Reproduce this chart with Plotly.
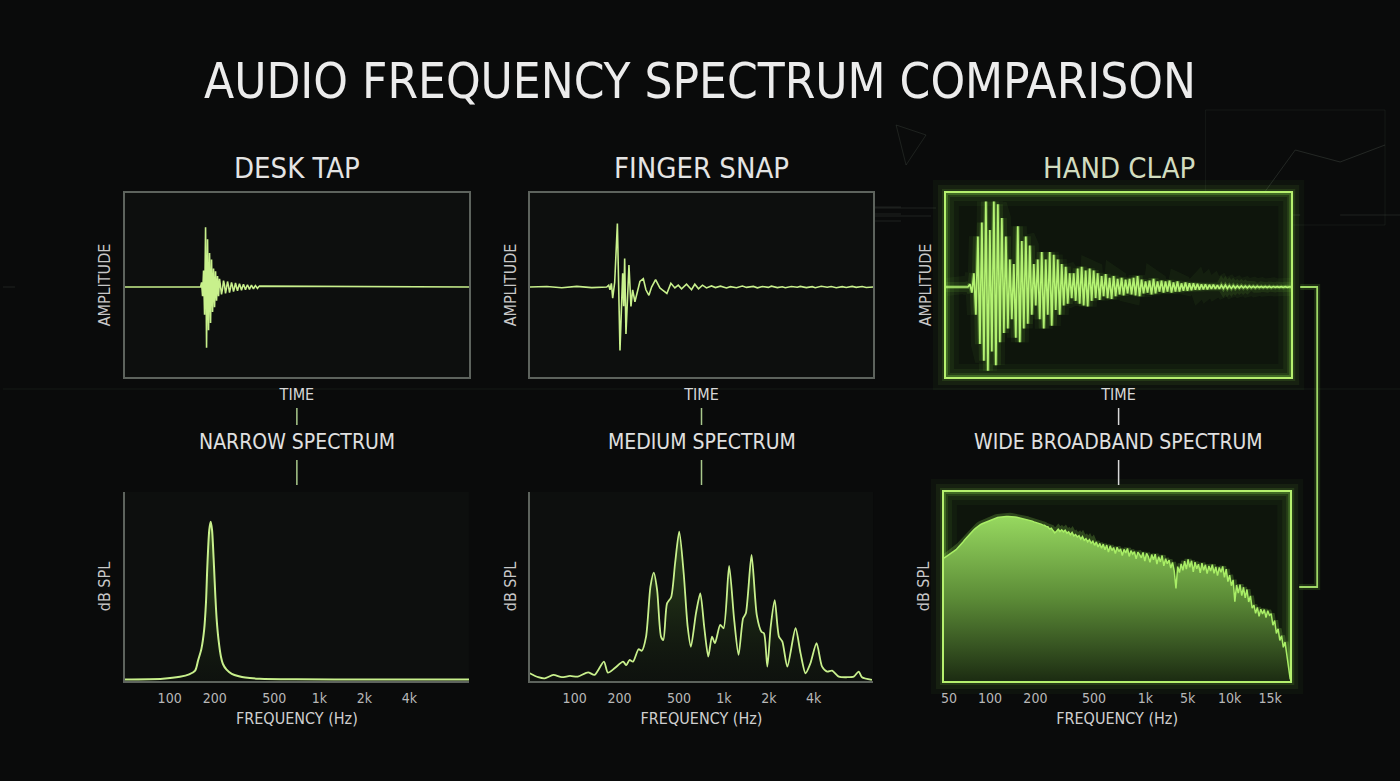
import numpy as np
import plotly.graph_objects as go

# ---------------- DATA ----------------
panel_titles = ["DESK TAP", "FINGER SNAP", "HAND CLAP"]
spectrum_titles = ["NARROW SPECTRUM", "MEDIUM SPECTRUM", "WIDE BROADBAND SPECTRUM"]

# Desk tap waveform: sample index (1 sample per step), burst starts at sample 76
tap_burst_start = 76
tap_burst = [0.0, 0.05, -0.1, 0.18, -0.3, 0.65, -0.66, 0.52, -0.47, 0.37,
             -0.39, 0.3, -0.27, 0.2, -0.22, 0.17, -0.15, 0.12, -0.1, 0.09,
             0.02, -0.08, -0.02, 0.07, 0.02, -0.07, -0.01, 0.06, 0.01, -0.06,
             -0.01, 0.05, 0.01, -0.05, -0.01, 0.045, 0.0, -0.04, 0.0, 0.035,
             0.0, -0.035, 0.0, 0.03, 0.0, -0.03, 0.0, 0.025, 0.0, -0.025,
             0.0, 0.02, 0.0, -0.02, 0.0, 0.015, 0.0, -0.015, 0.0, 0.01]
tap_length = 345

# Finger snap waveform: (sample, amplitude)
snap_t = [0, 17, 32, 47, 62, 77, 79, 80.3, 81.7, 83, 85, 87.7, 90.3, 93, 94, 95, 96.3,
          99.3, 101.3, 103, 105.3, 108, 110.3, 113.7, 116.3, 119.3, 122, 126, 130.3,
          132.7, 137.3, 141.3, 145.3, 148.7, 152, 157, 162, 165.3, 169, 173, 177, 182,
          186, 191, 197, 201, 207, 213, 217, 224, 228, 233, 239, 242, 248, 253, 256,
          262, 268, 271, 277, 283, 286, 292, 298, 302, 307, 313, 317, 323, 327, 333,
          337, 344]
snap_a = [0, 0.006, -0.008, 0.007, -0.006, 0.0, 0.02, -0.03, 0.04, -0.12, 0.05, 0.69,
          -0.69, 0.15, -0.21, 0.31, -0.51, 0.24, -0.21, -0.03, -0.16, -0.05, 0.06, 0.09,
          -0.03, -0.09, 0.0, 0.08, -0.01, -0.03, -0.07, 0.04, -0.01, 0.02, -0.02, 0.03,
          -0.03, 0.03, -0.02, 0.02, -0.01, 0.012, -0.006, 0.009, -0.01, 0.004, -0.008,
          0.01, -0.004, 0.007, -0.009, 0.005, -0.004, 0.009, -0.006, 0.003, -0.008, 0.006,
          -0.003, 0.007, -0.006, 0.004, -0.007, 0.008, -0.003, 0.005, -0.007, 0.004,
          -0.005, 0.007, -0.004, 0.005, -0.005, 0.0]
snap_length = 344

# Hand clap waveform: one value every 2 samples starting at sample 22
clap_start = 22
clap_step = 2
clap_wave = [0.0, 0.03, -0.06, 0.15, -0.3, 0.55, -0.62, 0.7, -0.8, 0.93,
             -0.91, 0.62, -0.7, 0.93, -0.85, 0.9, -0.6, 0.75, -0.5, 0.55,
             -0.45, 0.3, -0.35, 0.25, -0.55, 0.66, -0.6, 0.5, -0.45, 0.55,
             -0.4, 0.45, -0.3, 0.25, -0.2, 0.3, -0.35, 0.38, -0.45, 0.3,
             -0.3, 0.38, -0.42, 0.35, -0.25, 0.3, -0.3, 0.25, -0.2, 0.22,
             -0.18, 0.15, -0.12, 0.15, -0.15, 0.2, -0.18, 0.22, -0.2, 0.18,
             -0.21, 0.2, -0.15, 0.18, -0.12, 0.15, -0.14, 0.12, -0.1, 0.14,
             -0.12, 0.1, -0.13, 0.12, -0.1, 0.09, -0.08, 0.1, -0.09, 0.08,
             -0.07, 0.09, -0.08, 0.1, -0.09, 0.12, -0.1, 0.08, -0.07, 0.06,
             -0.06, 0.07, -0.08, 0.09, -0.07, 0.06, -0.05, 0.07, -0.06, 0.06,
             -0.05, 0.07, -0.06, 0.05, -0.05, 0.06, -0.05, 0.04, -0.04, 0.05,
             -0.04, 0.04, -0.035, 0.04, -0.03, 0.035, -0.03, 0.03, -0.025, 0.03,
             -0.025, 0.025, -0.02, 0.025, -0.02, 0.02, -0.02, 0.02, -0.015, 0.02,
             -0.015, 0.015, -0.015, 0.015, -0.012, 0.012, -0.01, 0.012, -0.01, 0.01,
             -0.01, 0.01, -0.008, 0.008, -0.008, 0.008, -0.006, 0.006, -0.006, 0.006,
             -0.005, 0.005, -0.005, 0.005, -0.004, 0.004, -0.004, 0.004, -0.003, 0.003,
             -0.003, 0.002, 0.0]
clap_length = 346

# Spectra (dB SPL, relative scale 0-100)
tap_freq = [50, 90, 117, 135, 148, 155, 163, 170, 175, 178, 181, 184, 188, 192, 195,
            198, 202, 206, 212, 220, 227, 240, 260, 290, 320, 400, 700, 2000, 10000]
tap_db = [0.8, 1.2, 2.2, 3.5, 5.5, 11, 17, 27, 42, 58, 71, 80, 84.3, 80, 71,
          60, 45, 33, 22, 13, 9, 6, 3.8, 2.5, 1.8, 1.2, 0.9, 0.8, 0.8]

snap_freq = [50, 57, 63, 72, 82, 93, 105, 123, 136, 157, 167, 185, 211, 222, 233, 246,
             268, 282, 301, 322, 339, 357, 379, 393, 416, 443, 471, 502, 538, 572, 601,
             650, 695, 738, 786, 832, 871, 945, 995, 1084, 1172, 1254, 1345, 1403, 1532,
             1661, 1784, 1857, 1955, 2059, 2190, 2339, 2465, 2661, 3020, 3265, 3524,
             3802, 4178, 4550, 4920, 5310, 5890, 6690, 7410, 8000, 8420, 9820]
snap_db = [4.1, 2.0, 1.4, 3.2, 2.0, 2.7, 2.3, 4.6, 3.2, 10.2, 4.4, 6.7, 10.2, 8.4, 11.1,
           10.2, 16.8, 16.0, 23.5, 49.9, 57.3, 48.1, 23.5, 21.7, 41.1, 44.3, 62.3, 79.0,
           56.9, 28.7, 18.1, 35.8, 46.4, 28.7, 12.9, 23.5, 20.0, 29.7, 27.9, 60.9, 32.3,
           13.8, 33.2, 35.8, 66.7, 34.9, 26.1, 25.2, 7.6, 28.7, 42.8, 23.5, 20.8, 7.6,
           27.9, 14.6, 4.1, 9.4, 20.0, 7.6, 5.0, 5.5, 2.3, 2.0, 2.3, 5.0, 2.0, 0.6]

# Hand clap spectrum: values on 201 evenly spaced bins of the display frequency axis
clap_bins = 201
clap_db = [65.0, 65.6, 66.2, 66.8, 67.4, 68.0, 68.6, 69.5, 70.5, 71.4,
           72.5, 73.6, 74.7, 75.8, 76.8, 77.8, 78.8, 79.8, 80.6, 81.4,
           82.1, 82.7, 83.2, 83.6, 84.0, 84.3, 84.6, 85.0, 85.5, 86.0,
           86.3, 86.5, 86.7, 86.9, 87.0, 87.1, 87.1, 87.1, 87.1, 87.0,
           86.9, 86.8, 86.6, 86.4, 86.2, 86.0, 85.8, 85.4, 85.4, 85.0,
           84.8, 84.6, 84.2, 84.0, 83.6, 83.2, 83.0, 82.6, 82.4, 81.8,
           81.6, 80.5, 80.9, 79.6, 78.4, 79.2, 80.3, 79.1, 80.0, 78.9,
           79.8, 78.2, 78.9, 77.4, 78.6, 76.8, 77.5, 76.2, 76.9, 75.1,
           76.4, 74.5, 75.3, 73.6, 74.8, 72.9, 74.0, 71.8, 73.6, 70.9,
           72.8, 70.2, 72.4, 69.4, 71.9, 68.2, 71.5, 69.0, 70.6, 67.4,
           70.8, 68.5, 69.9, 66.4, 69.6, 67.8, 70.1, 65.9, 69.0, 67.2,
           68.4, 64.6, 68.2, 66.9, 65.2, 68.0, 63.4, 67.5, 65.9, 62.8,
           66.9, 64.2, 67.1, 61.8, 65.8, 63.0, 66.4, 60.9, 64.7, 62.1,
           64.0, 59.8, 62.7, 58.2, 49.0, 60.5, 57.4, 62.0, 58.6, 63.4,
           59.2, 64.3, 60.1, 63.6, 57.8, 62.9, 59.4, 61.8, 57.2, 62.4,
           58.6, 61.5, 56.8, 60.9, 58.2, 61.6, 57.0, 60.4, 55.8, 60.1,
           57.5, 60.6, 54.8, 59.2, 52.6, 56.0, 50.4, 53.5, 42.0, 50.8,
           46.5, 51.0, 45.2, 49.6, 44.0, 48.4, 41.8, 45.0, 38.5, 40.2,
           35.8, 38.9, 34.2, 38.0, 35.4, 37.8, 33.6, 37.2, 34.8, 35.6,
           29.5, 32.0, 25.2, 27.6, 21.5, 24.0, 17.8, 20.6, 14.8, 9.0,
           0.9]

log_ticks = [100, 200, 500, 1000, 2000, 4000]
log_ticktext = ["100", "200", "500", "1k", "2k", "4k"]
clap_ticktext = ["50", "100", "200", "500", "1k", "5k", "10k", "15k"]
clap_tickpos = [1.45, 13.3, 26.4, 43.3, 58.2, 70.4, 82.5, 94.2]

# ---------------- STYLE ----------------
W, H = 1400, 781
BG = "#0a0b0b"
FONT = "Liberation Sans Narrow, DejaVu Sans Condensed, Roboto Condensed, Roboto, sans-serif"
GREY = "#5d635d"
WAVE = "#c8f08c"
TXT = "#e4e4e4"
DECO = "rgba(110,125,110,0.22)"

def px2x(p):
    return p / W

def px2y(p):
    return 1 - p / H

xdom = [[122, 467], [528, 872], [945, 1291], [122, 467], [528, 872], [943, 1290]]
ydom = [[193, 377]] * 3 + [[492, 681]] * 3

fig = go.Figure()

# ---- top row waveforms
tap_x = np.concatenate([[0], tap_burst_start + np.arange(len(tap_burst)), [tap_length]])
tap_y = np.concatenate([[0], tap_burst, [0]])
fig.add_trace(go.Scatter(x=tap_x, y=tap_y, mode="lines", line=dict(color=WAVE, width=1.6),
                         xaxis="x", yaxis="y", hoverinfo="skip"))

fig.add_trace(go.Scatter(x=snap_t, y=snap_a, mode="lines", line=dict(color=WAVE, width=1.6),
                         xaxis="x2", yaxis="y2", hoverinfo="skip"))

clap_x = np.concatenate([[0], clap_start + clap_step * np.arange(len(clap_wave)), [clap_length]])
clap_y = np.concatenate([[0], clap_wave, [0]])
for w, c in [(18, "rgba(140,230,70,0.05)"), (10, "rgba(140,230,70,0.10)"), (4, "rgba(160,240,90,0.28)")]:
    fig.add_trace(go.Scatter(x=clap_x, y=clap_y, mode="lines", line=dict(color=c, width=w),
                             xaxis="x3", yaxis="y3", hoverinfo="skip"))
fig.add_trace(go.Scatter(x=clap_x, y=clap_y, mode="lines", line=dict(color="#b4f272", width=1.7),
                         xaxis="x3", yaxis="y3", hoverinfo="skip"))

# ---- bottom row spectra
fig.add_trace(go.Scatter(
    x=tap_freq, y=tap_db, mode="lines", line=dict(color=WAVE, width=2, shape="spline", smoothing=0.8),
    fill="tozeroy",
    fillgradient=dict(type="vertical", start=0, stop=85,
                      colorscale=[[0, "rgba(20,30,15,0.2)"], [1, "rgba(80,120,45,0.75)"]]),
    xaxis="x4", yaxis="y4", hoverinfo="skip"))

fig.add_trace(go.Scatter(
    x=snap_freq, y=snap_db, mode="lines", line=dict(color=WAVE, width=1.8, shape="spline", smoothing=0.7),
    fill="tozeroy",
    fillgradient=dict(type="vertical", start=0, stop=80,
                      colorscale=[[0, "rgba(20,30,15,0.2)"], [1, "rgba(70,110,40,0.7)"]]),
    xaxis="x5", yaxis="y5", hoverinfo="skip"))

clap_u = np.linspace(0, 100, clap_bins)
fig.add_trace(go.Scatter(
    x=clap_u, y=clap_db, mode="lines", line=dict(color="rgba(160,240,90,0.22)", width=7),
    xaxis="x6", yaxis="y6", hoverinfo="skip"))
fig.add_trace(go.Scatter(
    x=clap_u, y=clap_db, mode="lines", line=dict(color="#a9ee66", width=1.5),
    fill="tozeroy",
    fillgradient=dict(type="vertical", start=0, stop=88,
                      colorscale=[[0, "rgb(28,44,18)"], [0.5, "rgb(92,140,55)"], [1, "rgb(152,218,96)"]]),
    xaxis="x6", yaxis="y6", hoverinfo="skip"))

# ---------------- LAYOUT ----------------
layout = dict(
    width=W, height=H, paper_bgcolor=BG, plot_bgcolor="rgba(0,0,0,0)",
    margin=dict(l=0, r=0, t=0, b=0), showlegend=False,
    font=dict(family=FONT, color=TXT),
    title=dict(text="AUDIO FREQUENCY SPECTRUM COMPARISON", x=0.5, xanchor="center",
               y=px2y(81), yanchor="middle", font=dict(size=49, color="#ececec", family=FONT)),
)

ranges_x = [[0, tap_length], [0, snap_length], [0, clap_length], [1.70, 4.0], [1.70, 4.0], [0, 100]]
for i in range(6):
    k = "" if i == 0 else str(i + 1)
    is_clap = i in (2, 5)
    lc = "#b6f06e" if is_clap else GREY
    lw = 2 if is_clap else 1.5
    xa = dict(domain=[px2x(xdom[i][0]), px2x(xdom[i][1])], range=ranges_x[i],
              showgrid=False, zeroline=False, showline=True, linecolor=lc, linewidth=lw,
              anchor="y" + k, fixedrange=True)
    ya = dict(domain=[px2y(ydom[i][1]), px2y(ydom[i][0])], showgrid=False, zeroline=False,
              showline=True, linecolor=lc, linewidth=lw, anchor="x" + k, showticklabels=False,
              ticks="", fixedrange=True)
    if i < 3:
        xa.update(showticklabels=False, ticks="", mirror=True,
                  title=dict(text="TIME", standoff=11, font=dict(size=16, color="#d8d8d8")))
        ya.update(range=[-0.978, 1.022], mirror=True,
                  title=dict(text="AMPLITUDE", standoff=8, font=dict(size=16, color="#c8c8c8")))
    else:
        xa.update(ticks="", tickfont=dict(size=14, color="#b8b8b8"), ticklabelstandoff=3,
                  title=dict(text="FREQUENCY (Hz)", standoff=8, font=dict(size=16, color="#d0d0d0")))
        ya.update(range=[0, 100],
                  title=dict(text="dB SPL", standoff=8, font=dict(size=16, color="#c8c8c8")))
        if i == 5:
            xa.update(type="linear", tickmode="array", tickvals=clap_tickpos, ticktext=clap_ticktext, mirror=True)
            ya.update(mirror=True)
        else:
            xa.update(type="log", tickmode="array", tickvals=log_ticks, ticktext=log_ticktext)
    layout["xaxis" + k] = xa
    layout["yaxis" + k] = ya

fig.update_layout(**layout)

# ---------------- TEXT ----------------
centers = [294.5, 700, 1118]
for j in range(3):
    fig.add_annotation(text=panel_titles[j], x=px2x(centers[j]), y=px2y(168), xref="paper", yref="paper",
                       showarrow=False, xanchor="center", yanchor="middle",
                       font=dict(size=29, color="#d2dcc0" if j == 2 else "#e4e4e4", family=FONT))
    fig.add_annotation(text=spectrum_titles[j], x=px2x(centers[j]), y=px2y(442), xref="paper", yref="paper",
                       showarrow=False, xanchor="center", yanchor="middle",
                       font=dict(size=21, color="#e0e0e0", family=FONT))

# ---------------- SHAPES (decoration) ----------------
shapes = []
shapes.append(dict(type="line", xref="paper", yref="paper", x0=0, x1=1, y0=px2y(389), y1=px2y(389),
                   line=dict(color="rgba(60,70,60,0.25)", width=1), layer="below"))
# faint HUD decorations
for (xa0, xa1, yy) in [(872, 900, 207), (872, 900, 214), (872, 900, 221), (860, 935, 208), (870, 930, 216),
                       (0, 12, 287), (1291, 1300, 215), (1340, 1400, 215)]:
    shapes.append(dict(type="line", xref="paper", yref="paper", x0=px2x(xa0), x1=px2x(xa1),
                       y0=px2y(yy), y1=px2y(yy), line=dict(color=DECO, width=1), layer="below"))
hud = "M %f,%f L %f,%f L %f,%f L %f,%f L %f,%f" % (px2x(1205), px2y(225), px2x(1255), px2y(205),
                                                   px2x(1295), px2y(150), px2x(1340), px2y(162),
                                                   px2x(1385), px2y(145))
shapes.append(dict(type="path", xref="paper", yref="paper", path=hud,
                   line=dict(color="rgba(110,125,110,0.25)", width=1), layer="below"))
shapes.append(dict(type="rect", xref="paper", yref="paper", x0=px2x(1205), x1=px2x(1385),
                   y0=px2y(225), y1=px2y(110), line=dict(color="rgba(110,125,110,0.12)", width=1),
                   layer="below"))
shapes.append(dict(type="path", xref="paper", yref="paper",
                   path="M %f,%f L %f,%f L %f,%f Z" % (px2x(895), px2y(125), px2x(925), px2y(135), px2x(905), px2y(165)),
                   line=dict(color="rgba(110,125,110,0.2)", width=1), layer="below"))
for i in range(6):
    k = "" if i == 0 else str(i + 1)
    fill = "#0e150c" if i in (2, 5) else "#0d0f0e"
    shapes.append(dict(type="rect", xref="x%s domain" % k, yref="y%s domain" % k, x0=0, x1=1, y0=0, y1=1,
                       fillcolor=fill, line=dict(width=0), layer="below"))
for k in ("3", "6"):
    for w, op in [(26, 0.04), (16, 0.07), (8, 0.12), (4, 0.25)]:
        shapes.append(dict(type="rect", xref="x%s domain" % k, yref="y%s domain" % k, x0=0, x1=1, y0=0, y1=1,
                           line=dict(color="rgba(140,230,70,%.2f)" % op, width=w), layer="below"))
for j in range(3):
    c = "#a9c98c" if j < 2 else "#d8d8d8"
    shapes.append(dict(type="line", xref="paper", yref="paper", x0=px2x(centers[j]), x1=px2x(centers[j]),
                       y0=px2y(408), y1=px2y(425), line=dict(color=c, width=1.5)))
    shapes.append(dict(type="line", xref="paper", yref="paper", x0=px2x(centers[j]), x1=px2x(centers[j]),
                       y0=px2y(460), y1=px2y(485), line=dict(color=c, width=1.5)))
bracket = "M %f,%f L %f,%f L %f,%f L %f,%f" % (px2x(1300), px2y(287), px2x(1317), px2y(287),
                                               px2x(1317), px2y(587), px2x(1299), px2y(587))
shapes.append(dict(type="path", xref="paper", yref="paper", path=bracket,
                   line=dict(color="rgba(140,230,70,0.15)", width=6)))
shapes.append(dict(type="path", xref="paper", yref="paper", path=bracket,
                   line=dict(color="#9fd866", width=1.8)))
fig.update_layout(shapes=shapes)

fig.write_html("out.html", config={"displayModeBar": False},
               post_script="document.body.style.margin='0';document.body.style.background='#0a0b0b';")
